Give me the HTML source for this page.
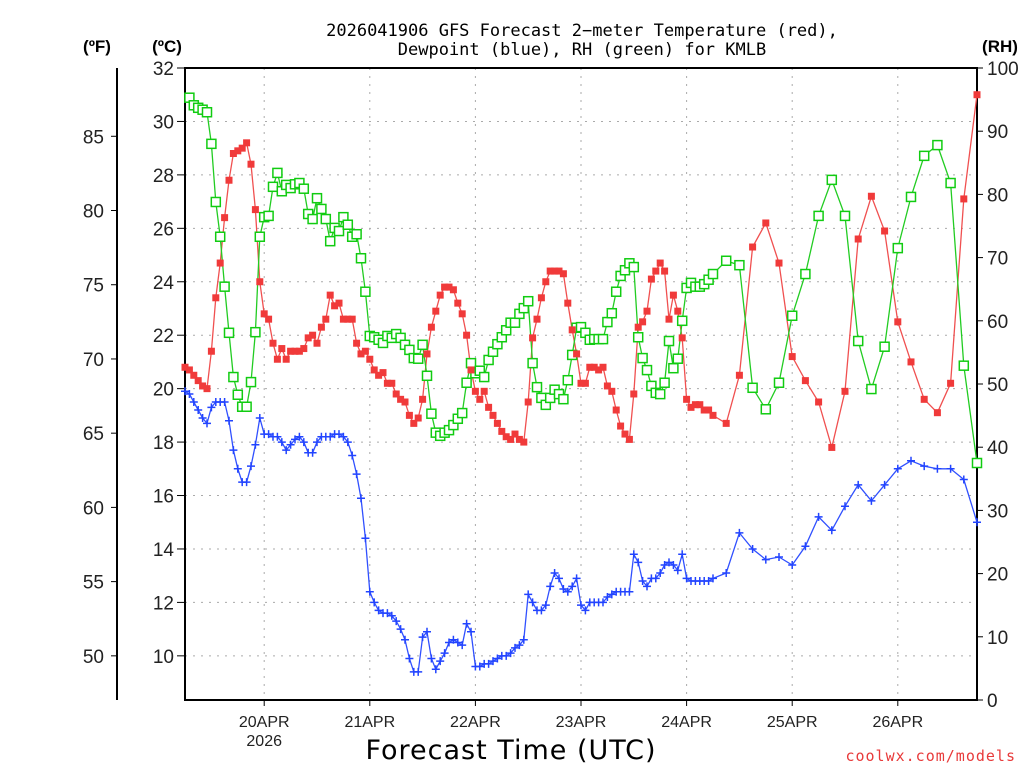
<!DOCTYPE html>
<html><head><meta charset="utf-8"><style>
html,body{margin:0;padding:0;background:#fff;}
svg text{font-family:"Liberation Sans","DejaVu Sans",sans-serif;}
</style></head><body>
<svg id="chart" width="1024" height="768" viewBox="0 0 1024 768" xmlns="http://www.w3.org/2000/svg">
<rect width="1024" height="768" fill="#fff"/>
<text x="582" y="36" font-size="17" text-anchor="middle" fill="#000" style="font-family:'DejaVu Sans Mono',monospace">2026041906 GFS Forecast 2−meter Temperature (red),</text>
<text x="582" y="55" font-size="17" text-anchor="middle" fill="#000" style="font-family:'DejaVu Sans Mono',monospace">Dewpoint (blue), RH (green) for KMLB</text>
<text x="97" y="52" font-size="17" font-weight="bold" text-anchor="middle">(ºF)</text>
<text x="167" y="52" font-size="17" font-weight="bold" text-anchor="middle">(ºC)</text>
<text x="1000" y="52" font-size="17" font-weight="bold" text-anchor="middle">(RH)</text>
<text x="511" y="759" font-size="27" text-anchor="middle" letter-spacing="1" style="font-family:'DejaVu Sans',sans-serif">Forecast Time (UTC)</text>
<text x="1016" y="761" font-size="15" text-anchor="end" fill="#e83a3a" letter-spacing="1" style="font-family:'DejaVu Sans Mono',monospace">coolwx.com/models</text>
<g id="grid"></g><g id="axes"></g><g id="series"></g>
</svg>
<script>
const HOURS=[0,1,2,3,4,5,6,7,8,9,10,11,12,13,14,15,16,17,18,19,20,21,22,23,24,25,26,27,28,29,30,31,32,33,34,35,36,37,38,39,40,41,42,43,44,45,46,47,48,49,50,51,52,53,54,55,56,57,58,59,60,61,62,63,64,65,66,67,68,69,70,71,72,73,74,75,76,77,78,79,80,81,82,83,84,85,86,87,88,89,90,91,92,93,94,95,96,97,98,99,100,101,102,103,104,105,106,107,108,109,110,111,112,113,114,115,116,117,118,119,120,123,126,129,132,135,138,141,144,147,150,153,156,159,162,165,168,171,174,177,180];
const TEMP_C=[20.8,20.7,20.5,20.3,20.1,20.0,21.4,23.4,24.7,26.4,
27.8,28.8,28.9,29.0,29.2,28.4,26.7,24.0,22.8,22.6,
21.7,21.1,21.5,21.1,21.4,21.4,21.4,21.5,21.9,22.0,
21.7,22.3,22.6,23.5,23.1,23.2,22.6,22.6,22.6,21.7,
21.3,21.4,21.1,20.7,20.5,20.6,20.2,20.2,19.8,19.6,
19.5,19.0,18.7,18.9,19.6,21.3,22.3,22.9,23.5,23.8,
23.8,23.7,23.2,22.8,22.0,20.7,19.9,19.6,19.9,19.3,
19.0,18.7,18.4,18.2,18.1,18.3,18.1,18.0,19.5,21.9,
22.6,23.4,24.0,24.4,24.4,24.4,24.3,23.2,22.2,21.3,
20.2,20.2,20.8,20.8,20.7,20.8,20.1,19.9,19.2,18.6,
18.3,18.1,19.8,22.3,22.5,22.9,24.1,24.4,24.7,24.4,
22.6,23.5,22.9,21.9,19.6,19.3,19.4,19.4,19.2,19.2,
19.0,
18.7,20.5,25.3,26.2,24.7,21.2,20.3,19.5,17.8,19.9,25.6,27.2,25.9,22.5,21.0,19.6,19.1,20.2,27.1,31.0];
const DEW_C=[19.9,19.8,19.5,19.2,18.9,18.7,19.3,19.5,19.5,19.5,
18.8,17.7,17.0,16.5,16.5,17.1,17.9,18.9,18.3,18.3,
18.2,18.2,18.0,17.7,17.9,18.1,18.2,18.0,17.6,17.6,
18.0,18.2,18.2,18.2,18.3,18.3,18.2,18.0,17.5,16.8,
15.9,14.4,
12.4,12.0,11.7,11.6,11.6,11.5,11.3,11.0,10.6,9.9,
9.4,9.4,10.7,10.9,9.9,9.5,9.8,10.1,10.5,10.6,
10.5,10.4,11.2,10.9,9.6,9.6,9.7,9.7,9.8,9.9,
10.0,10.0,10.1,10.3,10.4,10.6,12.3,12.0,11.7,11.7,
11.9,12.6,13.1,12.9,12.5,12.4,
12.6,12.9,11.9,11.7,12.0,12.0,12.0,12.0,12.2,12.3,
12.4,12.4,12.4,12.4,13.8,13.5,12.8,12.6,12.9,12.9,
13.1,13.4,13.5,13.4,13.2,13.8,12.9,12.8,12.8,12.8,
12.8,12.8,12.9,
13.1,14.6,14.0,13.6,13.7,13.4,14.1,15.2,14.7,15.6,16.4,15.8,16.4,17.0,17.3,17.1,17.0,17.0,16.6,15.0];
const RH_HOURS=HOURS.slice(1);
const RH=[95.3,94.1,93.7,93.4,93.0,88.0,78.8,73.3,65.4,58.1,
51.1,48.3,46.4,46.4,50.3,58.2,73.3,76.4,76.6,81.2,
83.4,80.5,81.5,81.0,81.6,81.8,80.9,76.9,76.1,79.4,
77.7,76.1,72.6,74.7,74.2,76.4,75.2,73.3,73.7,69.9,
64.6,57.6,57.4,57.0,56.5,57.6,57.3,57.9,57.3,56.2,
55.4,54.1,54.0,56.2,51.3,45.3,42.3,41.8,42.3,42.7,
43.5,44.5,45.4,50.2,53.3,51.7,52.1,51.1,53.8,55.1,
56.3,57.4,58.5,59.7,59.7,61.1,62.0,63.1,53.3,49.5,
47.8,46.7,47.8,49.1,48.4,47.6,50.6,54.6,58.9,59.0,
58.1,57.0,57.1,57.1,57.1,59.8,61.2,64.6,67.1,68.0,
69.1,68.5,57.4,54.1,52.2,49.7,48.6,48.4,50.2,56.8,
52.5,54.0,60.0,65.2,66.0,65.4,65.4,65.8,66.5,67.4,
69.5,68.8,49.4,46.0,50.2,60.8,67.4,76.6,82.3,76.6,56.8,49.2,55.9,71.5,79.6,86.1,87.8,81.8,52.9,37.5];
const C_TICKS=[10,12,14,16,18,20,22,24,26,28,30,32];
const F_TICKS=[50,55,60,65,70,75,80,85];
const RH_TICKS=[0,10,20,30,40,50,60,70,80,90,100];
const DAY_HOURS=[18,42,66,90,114,138,162];
const DAY_LABELS=["20APR","21APR","22APR","23APR","24APR","25APR","26APR"];

const NS="http://www.w3.org/2000/svg";
const X0=185,X1=977,Y0=68,Y1=700,HMAX=180,CTOP=32,CPX=26.72;
const xs=h=>X0+(X1-X0)*h/HMAX;
const yc=c=>Y0+(CTOP-c)*CPX;
const yf=f=>yc((f-32)*5/9);
const yr=r=>Y1-(Y1-Y0)*r/100;
function mk(tag,attrs,parent){const e=document.createElementNS(NS,tag);for(const k in attrs)e.setAttribute(k,attrs[k]);parent.appendChild(e);return e;}
const grid=document.getElementById('grid'),axes=document.getElementById('axes'),ser=document.getElementById('series');

C_TICKS.forEach(c=>{
 const l=mk('line',{x1:X0,x2:X1,y1:yc(c),y2:yc(c),stroke:'#aaa','stroke-width':1,'stroke-dasharray':'2,6'},grid);
 
 
 const t=mk('line',{x1:X0-8,x2:X0,y1:yc(c),y2:yc(c),stroke:'#000','stroke-width':1},axes);
 
 
 const tx=mk('text',{x:X0-11,y:yc(c)+7,'font-size':19,'text-anchor':'end',fill:'#222'},axes);
 tx.textContent=c;
 
 
});
DAY_HOURS.forEach((h,i)=>{
 const l=mk('line',{x1:xs(h),x2:xs(h),y1:Y0,y2:Y1,stroke:'#aaa','stroke-width':1,'stroke-dasharray':'2,6'},grid);
 
 
 const t=mk('line',{x1:xs(h),x2:xs(h),y1:Y1,y2:Y1+6,stroke:'#000'},axes);
 
 
 const tx=mk('text',{x:xs(h),y:Y1+27,'font-size':16,'text-anchor':'middle',fill:'#222'},axes);
 tx.textContent=DAY_LABELS[i];
 
 
});
const yr2=mk('text',{x:xs(DAY_HOURS[0]),y:Y1+46,'font-size':16,'text-anchor':'middle',fill:'#222'},axes);
yr2.textContent='2026';


F_TICKS.forEach(f=>{
 const t=mk('line',{x1:111,x2:117,y1:yf(f),y2:yf(f),stroke:'#000'},axes);
 
 
 const tx=mk('text',{x:104,y:yf(f)+7,'font-size':19,'text-anchor':'end',fill:'#222'},axes);
 tx.textContent=f;
 
 
});
RH_TICKS.forEach(r=>{
 const t=mk('line',{x1:X1,x2:X1+6,y1:yr(r),y2:yr(r),stroke:'#000'},axes);
 
 
 const tx=mk('text',{x:X1+10,y:yr(r)+7,'font-size':19,'text-anchor':'start',fill:'#222'},axes);
 tx.textContent=r;
 
 
});
const fax=mk('line',{x1:117,x2:117,y1:Y0,y2:Y1,stroke:'#000','stroke-width':2},axes);


const frame=mk('rect',{x:X0,y:Y0,width:X1-X0,height:Y1-Y0,fill:'none',stroke:'#000','stroke-width':2},axes);



function line(hours,vals,yfn,color,name){
 const n=Math.min(hours.length,vals.length);
 let d='';for(let i=0;i<n;i++)d+=(i?'L':'M')+xs(hours[i]).toFixed(1)+','+yfn(vals[i]).toFixed(1);
 const p=mk('path',{d:d,fill:'none',stroke:color,'stroke-width':1.3},ser);
 
 
 return n;
}
const nT=line(HOURS,TEMP_C,yc,'#f05050','temperature-line');
const nD=line(HOURS,DEW_C,yc,'#3050ff','dewpoint-line');
const nR=line(RH_HOURS,RH,yr,'#22cc22','rh-line');
for(let i=0;i<nD;i++){
 const x=xs(HOURS[i]),y=yc(DEW_C[i]);
 const p=mk('path',{d:`M${x-4},${y}H${x+4}M${x},${y-4}V${y+4}`,stroke:'#2244ff','stroke-width':1.5},ser);
 
 
}
for(let i=0;i<nR;i++){
 const x=xs(RH_HOURS[i]),y=yr(RH[i]);
 const r=mk('rect',{x:x-4.5,y:y-4.5,width:9,height:9,fill:'#fff',stroke:'#11cc11','stroke-width':1.5},ser);
 
 
}
for(let i=0;i<nT;i++){
 const x=xs(HOURS[i]),y=yc(TEMP_C[i]);
 const r=mk('rect',{x:x-3.5,y:y-3.5,width:7,height:7,fill:'#f03a3a'},ser);
 
 
}
</script>
</body></html>
